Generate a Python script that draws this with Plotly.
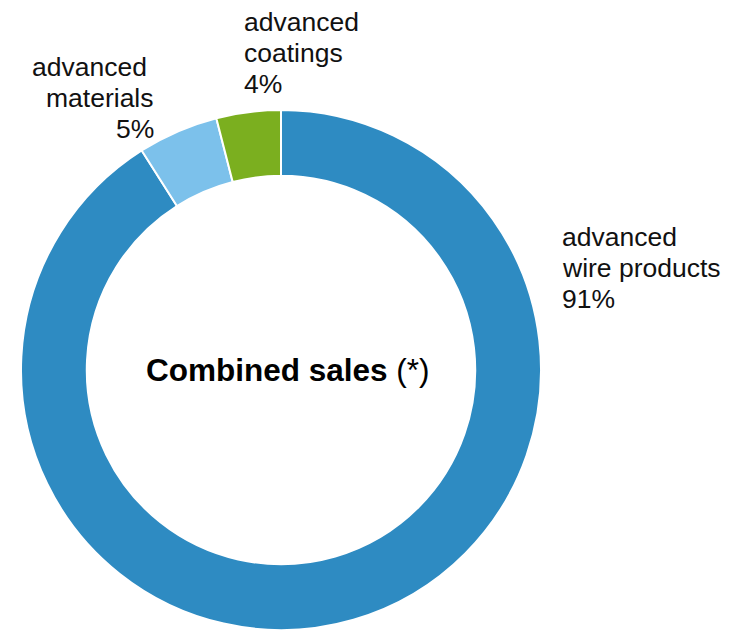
import plotly.graph_objects as go

# Sales split by business segment
segments = ["advanced wire products", "advanced materials", "advanced coatings"]
label_lines = [["advanced", "wire products"], ["advanced", "materials"], ["advanced", "coatings"]]
shares = [91, 5, 4]
colors = ["#2E8BC2", "#7CC1EB", "#7BAF1F"]

W, H = 732, 630
FAMILY = "Liberation Sans, Arial, sans-serif"
fig = go.Figure()
fig.add_trace(go.Pie(
    labels=segments,
    values=shares,
    sort=False,
    direction="clockwise",
    rotation=0,
    hole=0.747,
    textinfo="none",
    hoverinfo="label+percent",
    marker=dict(colors=colors, line=dict(color="white", width=2)),
    domain=dict(x=[20 / W, 542 / W], y=[0, 520 / H]),
    showlegend=False,
))

FS = 26.5
LINE = 31
font = dict(family=FAMILY, size=FS, color="#111111")

# Outside label blocks: anchor x px for each line, first baseline y px, anchor side
placements = [
    ([560, 560, 560], 247, "left"),
    ([149, 156, 156], 77, "right"),
    ([242, 242, 242], 32, "left"),
]
annotations = []
for lines, val, (xs, base, xa) in zip(label_lines, shares, placements):
    for i, line in enumerate(lines + [f"{val}%"]):
        bl = base + i * LINE
        annotations.append(dict(
            text=line,
            x=xs[i] / W, y=1 - (bl - 0.36 * FS) / H, xref="paper", yref="paper",
            xanchor=xa, yanchor="middle", showarrow=False, font=font,
        ))

annotations.append(dict(
    text="<b>Combined sales</b> (*)",
    x=288 / W, y=1 - 370 / H, xref="paper", yref="paper",
    xanchor="center", yanchor="middle", showarrow=False,
    font=dict(family=FAMILY, size=31.5, color="#000000"),
))

fig.update_layout(
    width=W, height=H,
    margin=dict(l=0, r=0, t=0, b=0),
    paper_bgcolor="white", plot_bgcolor="white",
    annotations=annotations,
)

fig.write_html("out.html")
